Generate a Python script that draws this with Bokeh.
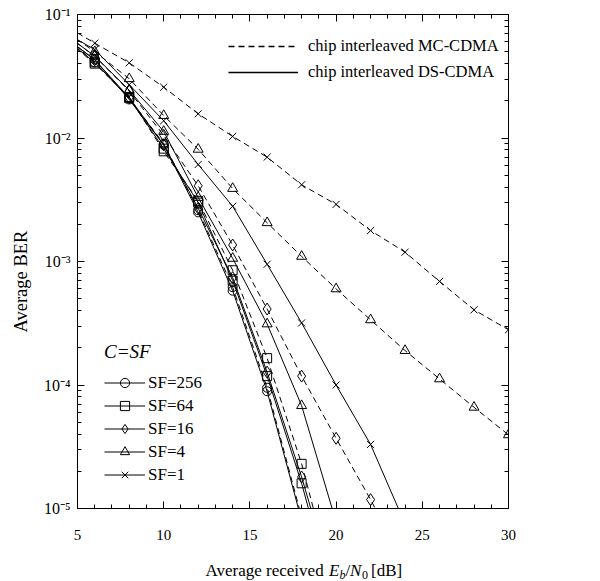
from bokeh.plotting import figure
from bokeh.layouts import column
from bokeh.models import (LinearAxis, LogAxis, SingleIntervalTicker, LogTicker, Legend,
                          LegendItem, CustomJSTickFormatter, Label, ColumnDataSource, Range1d,
                          Title)
from bokeh.embed import file_html
from bokeh.resources import INLINE

FONT = "Liberation Serif"

# ---------------- data (Average BER vs Eb/N0 in dB) ----------------
snr_a = [4, 6, 8, 10, 12, 14, 16, 18]
snr_b = [4, 6, 8, 10, 12, 14, 16, 18, 20]
snr_c = [4, 6, 8, 10, 12, 14, 16, 18, 20, 22, 24]
snr_d = [4, 6, 8, 10, 12, 14, 16, 18, 20, 22, 24, 26, 28, 30]

# chip interleaved MC-CDMA (dashed)
mc_sf256 = [0.072, 0.041, 0.021, 0.0090, 0.0026, 0.00062, 0.000095, 0.0000085]
mc_sf64 = [0.068, 0.040, 0.0215, 0.0078, 0.0031, 0.00085, 0.000165, 0.000023, 0.000002]
mc_sf16 = [0.074, 0.046, 0.024, 0.0105, 0.0041, 0.00136, 0.000412, 0.000118, 0.000037, 0.0000118, 0.0000035]
mc_sf4 = [0.078, 0.050, 0.0302, 0.0152, 0.0081, 0.0039, 0.00206, 0.0011, 0.0006, 0.000337,
          0.00019, 0.000112, 0.000066, 0.0000395]
mc_sf1 = [0.086, 0.0586, 0.0406, 0.0258, 0.0157, 0.0103, 0.0070, 0.00418, 0.0029, 0.00178,
          0.00119, 0.00069, 0.000406, 0.00028]

# chip interleaved DS-CDMA (solid)
ds_sf256 = [0.070, 0.043, 0.0205, 0.0088, 0.0025, 0.00058, 0.000089, 0.000008]
ds_sf64 = [0.068, 0.041, 0.021, 0.0082, 0.0030, 0.00070, 0.000118, 0.000016, 0.0000015]
ds_sf16 = [0.070, 0.043, 0.0212, 0.0088, 0.0027, 0.00074, 0.000127, 0.000018, 0.000002]
ds_sf4 = [0.074, 0.046, 0.0244, 0.0113, 0.0033, 0.00106, 0.000312, 0.000068, 0.0000078]
ds_sf1 = [0.075, 0.052, 0.027, 0.0138, 0.0061, 0.0028, 0.00095, 0.000318, 0.0001, 0.000033, 0.0000075]

sf_labels = ["SF=256", "SF=64", "SF=16", "SF=4", "SF=1"]
markers = ["circle", "square", "diamond", "triangle", "x"]
marker_sizes = [9, 9, 12, 10, 10]

mc_series = [(snr_a, mc_sf256), (snr_b, mc_sf64), (snr_c, mc_sf16), (snr_d, mc_sf4), (snr_d, mc_sf1)]
ds_series = [(snr_a, ds_sf256), (snr_b, ds_sf64), (snr_b, ds_sf16), (snr_b, ds_sf4), (snr_c, ds_sf1)]

legend_top = ["chip interleaved MC-CDMA", "chip interleaved DS-CDMA"]
legend_title = "C=SF"
y_title = "Average BER"

# ---------------- main figure ----------------
p = figure(width=600, height=550, x_range=(5, 30), y_range=(1e-5, 1e-1), y_axis_type="log",
           output_backend="svg", toolbar_location=None,
           min_border_left=77, min_border_right=92, min_border_top=14, min_border_bottom=42)
p.grid.visible = False
p.outline_line_color = None
p.background_fill_color = "white"
p.border_fill_color = "white"


def style_axis(ax):
    ax.axis_line_color = "black"
    ax.axis_line_width = 1
    ax.major_tick_in = 7
    ax.major_tick_out = 0
    ax.minor_tick_in = 4
    ax.minor_tick_out = 0
    ax.major_tick_line_color = "black"
    ax.minor_tick_line_color = "black"
    ax.major_label_text_font = FONT
    ax.major_label_text_color = "black"
    ax.major_label_text_font_size = "15px"


sup_code = """
const e = Math.round(Math.log10(tick));
const m = {"-":"\u207b","0":"\u2070","1":"\u00b9","2":"\u00b2","3":"\u00b3","4":"\u2074",
           "5":"\u2075","6":"\u2076","7":"\u2077","8":"\u2078","9":"\u2079"};
return "10" + String(e).split("").map(c => m[c]).join("");
"""

xb = p.xaxis[0]
xb.ticker = SingleIntervalTicker(interval=5, num_minor_ticks=5)
style_axis(xb)
xb.major_label_standoff = 21

yl = p.yaxis[0]
yl.ticker = LogTicker(num_minor_ticks=10)
yl.formatter = CustomJSTickFormatter(code=sup_code)
style_axis(yl)
yl.major_label_standoff = 7
yl.major_label_text_font_size = "16px"

p.add_layout(Title(text=y_title, align="left", offset=176, standoff=18,
                   vertical_align="middle",
                   text_font=FONT, text_font_style="normal", text_font_size="18.5px",
                   text_color="black"), "left")

xt = LinearAxis(ticker=SingleIntervalTicker(interval=5, num_minor_ticks=5),
                major_label_text_alpha=0, major_label_standoff=0)
style_axis(xt)
xt.major_label_text_font_size = "1px"
p.add_layout(xt, "above")

yr = LogAxis(ticker=LogTicker(num_minor_ticks=10), major_label_text_alpha=0,
             major_label_standoff=0)
style_axis(yr)
yr.major_label_text_font_size = "1px"
p.add_layout(yr, "right")

# ---------------- curves ----------------
DASH = "6 4"
ds_items = []
for (xs, ys), mk, ms in zip(mc_series, markers, marker_sizes):
    src = ColumnDataSource(dict(x=xs, y=ys))
    p.line("x", "y", source=src, line_color="black", line_width=1, line_dash=DASH)
    p.scatter("x", "y", source=src, marker=mk, size=ms, line_color="black",
              fill_color=None, line_width=1)

for (xs, ys), mk, ms, lab_ in zip(ds_series, markers, marker_sizes, sf_labels):
    src = ColumnDataSource(dict(x=xs, y=ys))
    lr = p.line("x", "y", source=src, line_color="black", line_width=1)
    sr = p.scatter("x", "y", source=src, marker=mk, size=ms, line_color="black",
                   fill_color=None, line_width=1)
    ds_items.append(LegendItem(label=lab_, renderers=[lr, sr]))

# legend-only line samples (single point, outside the visible range)
hidden = ColumnDataSource(dict(x=[0], y=[1e-3]))
r_mc = p.line("x", "y", source=hidden, line_color="black", line_width=1.5, line_dash=DASH)
r_ds = p.line("x", "y", source=hidden, line_color="black", line_width=1.5)

leg1 = Legend(items=[LegendItem(label=legend_top[0], renderers=[r_mc]),
                     LegendItem(label=legend_top[1], renderers=[r_ds])],
              location=(151, 426), glyph_width=70, glyph_height=20, label_height=20,
              spacing=6, padding=0, margin=0, label_standoff=10,
              label_text_font=FONT, label_text_font_size="16.5px", label_text_color="black",
              border_line_color=None, background_fill_alpha=0)
p.add_layout(leg1)

leg2 = Legend(items=ds_items, location=(27, 22), title=legend_title,
              title_text_font=FONT, title_text_font_style="italic", title_text_font_size="19px",
              title_text_color="black", title_standoff=8,
              glyph_width=41, glyph_height=23, label_height=23, spacing=0, padding=0, margin=0,
              label_standoff=3, label_text_font=FONT, label_text_font_size="17px",
              label_text_color="black", border_line_color=None, background_fill_alpha=0)
p.add_layout(leg2)

# ---------------- x-axis title strip (E_b / N_0 with italics and subscripts) ----------------
# this strip's frame is aligned with the main frame (canvas x 77..508)
q = figure(width=600, height=31, x_range=Range1d(77, 508), y_range=Range1d(581, 550),
           output_backend="svg", toolbar_location=None, min_border=0,
           min_border_left=77, min_border_right=92,
           x_axis_location=None, y_axis_location=None)
q.grid.visible = False
q.outline_line_color = None
q.background_fill_color = "white"
q.border_fill_color = "white"


def lab(text, x, y, size="17px", style="normal"):
    q.add_layout(Label(x=x, y=y, text=text, text_font=FONT, text_font_size=size,
                       text_font_style=style, text_color="black",
                       text_baseline="alphabetic", text_align="left"))


lab("Average received", 205, 570)
lab("E", 328.5, 570, style="italic")
lab("b", 339, 574, size="12px", style="italic")
lab("/", 345, 570)
lab("N", 349.5, 570, style="italic")
lab("0", 361.5, 574, size="12px")
lab("[dB]", 370.5, 570)

layout = column(p, q, spacing=0)
open("out.html", "w").write(file_html(layout, INLINE))
